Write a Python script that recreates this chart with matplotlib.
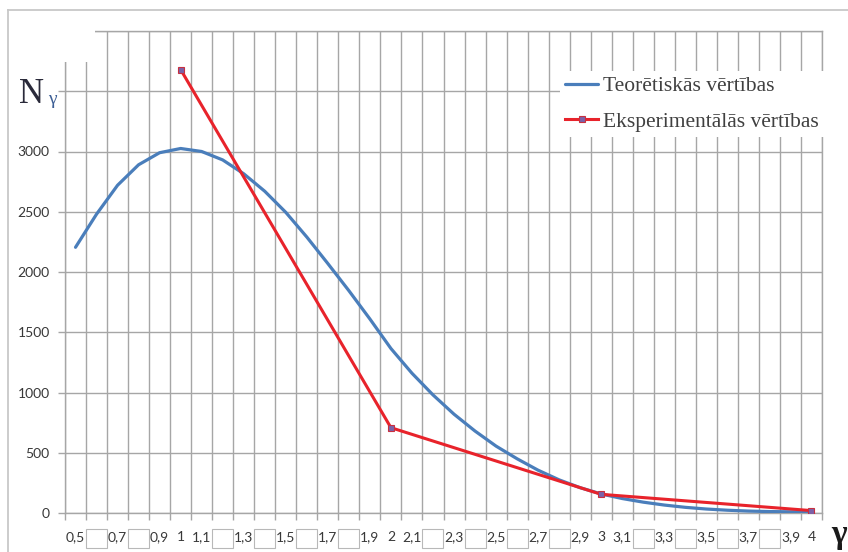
import numpy as np
import matplotlib
matplotlib.use("Agg")
import matplotlib.pyplot as plt
from matplotlib.patches import Rectangle
from matplotlib.lines import Line2D
import matplotlib.transforms as mtransforms

# ---- data ----
gamma = [0.5, 0.6, 0.7, 0.8, 0.9, 1.0, 1.1, 1.2, 1.3, 1.4, 1.5, 1.6,
         1.7, 1.8, 1.9, 2.0, 2.1, 2.2, 2.3, 2.4, 2.5, 2.6, 2.7, 2.8,
         2.9, 3.0, 3.1, 3.2, 3.3, 3.4, 3.5, 3.6, 3.7, 3.8, 3.9, 4.0]
theory = [2205, 2480, 2720, 2890, 2990, 3025, 3000, 2930, 2815, 2670, 2495, 2290,
          2070, 1845, 1610, 1365, 1160, 980, 820, 680, 555, 450, 355, 275,
          210, 158, 120, 90, 66, 47, 33, 23, 16, 12, 10, 9]
exp_gamma = [1.0, 2.0, 3.0, 4.0]
experiment = [3680, 708, 155, 20]
tick_labels = ["0,5", "", "0,7", "", "0,9", "1", "1,1", "", "1,3", "", "1,5", "",
               "1,7", "", "1,9", "2", "2,1", "", "2,3", "", "2,5", "", "2,7", "",
               "2,9", "3", "3,1", "", "3,3", "", "3,5", "", "3,7", "", "3,9", "4"]
yticks = [0, 500, 1000, 1500, 2000, 2500, 3000, 3500, 4000]
ytick_labels = ["0", "500", "1000", "1500", "2000", "2500", "3000", "", ""]

W, H = 848, 552
fig = plt.figure(figsize=(W / 100, H / 100), dpi=100)
fig.patch.set_facecolor("white")

def fx(px):
    return px / W

def fy(py):
    return 1 - py / H

L, R, T, B = 65, 822, 31, 513
ax = fig.add_axes([fx(L), fy(B), fx(R - L), (B - T) / H])

grid_c = "#a6a6a6"
xpos = np.arange(len(gamma))
exp_pos = [gamma.index(g) for g in exp_gamma]

ax.plot(xpos, theory, color="#4a7ebb", lw=2.3, solid_capstyle="round",
        solid_joinstyle="round", zorder=3, label="Teorētiskās vērtības")
ax.plot(exp_pos, experiment, color="#e8232b", lw=2.2, marker="s", markersize=4.5,
        markerfacecolor="#7b62a8", markeredgecolor="#c83040", markeredgewidth=0.8,
        zorder=4, label="Eksperimentālās vērtības")

ax.set_xlim(-0.5, len(gamma) - 0.5)
ax.set_ylim(0, 4000)

ax.set_xticks(xpos)
ax.set_xticklabels(tick_labels, fontfamily="Lato", fontsize=10, color="#383838")
ax.set_xticks(np.arange(-0.5, len(gamma), 1), minor=True)
ax.tick_params(axis="x", which="major", length=0, pad=13)
ax.tick_params(axis="x", which="minor", length=5, color=grid_c, width=1)

ax.set_yticks(yticks)
ax.set_yticklabels(ytick_labels, fontfamily="Lato", fontsize=10, color="#383838")
ax.tick_params(axis="y", length=5, color=grid_c, width=1, pad=6)

ax.grid(which="minor", axis="x", color=grid_c, lw=1)
ax.grid(which="major", axis="y", color=grid_c, lw=1)
ax.set_axisbelow(True)
for s in ax.spines.values():
    s.set_color(grid_c)
    s.set_linewidth(1)

# blank boxes in place of hidden labels
trans = mtransforms.blended_transform_factory(ax.transData, ax.transAxes)
for i, lab in enumerate(tick_labels):
    if lab == "":
        ax.add_patch(Rectangle((i - 0.5, -0.073), 1.0, 0.039, transform=trans,
                               facecolor="white", edgecolor="#b8b8b8", lw=0.8,
                               clip_on=False, zorder=5))

# white mask over top-left corner of grid
fig.add_artist(Rectangle((fx(55), fy(62)), fx(40), (62 - 20) / H, transform=fig.transFigure,
                         facecolor="white", edgecolor="none", zorder=10))

# outer frame
fig.add_artist(Line2D([fx(8), fx(8)], [fy(10), 0], transform=fig.transFigure,
                      color="#c8c8c8", lw=1.3, zorder=11))
fig.add_artist(Line2D([fx(8), 1], [fy(10), fy(10)], transform=fig.transFigure,
                      color="#c8c8c8", lw=1.3, zorder=11))

# axis titles
fig.text(fx(19), fy(103), "N", fontfamily="Liberation Serif", fontsize=25,
         color="#2a2a3a", ha="left", va="baseline", zorder=12)
fig.text(fx(48), fy(104), "γ", fontfamily="Liberation Serif", fontsize=14,
         color="#3d5f95", ha="left", va="baseline", zorder=12)
fig.text(fx(831), fy(543), "γ", fontfamily="Liberation Serif", fontsize=24,
         fontweight="bold", color="#1a1a1a", ha="left", va="baseline", zorder=12)

leg = ax.legend(loc="upper left", bbox_to_anchor=(fx(560), fy(71)),
                bbox_transform=fig.transFigure,
                prop={"family": "Liberation Serif", "size": 15.5},
                handlelength=1.5, handletextpad=0.25, labelspacing=0.7,
                borderpad=0.25, borderaxespad=0, frameon=True, fancybox=False,
                framealpha=1)
leg.get_frame().set_facecolor("white")
leg.get_frame().set_edgecolor("none")
for t in leg.get_texts():
    t.set_color("#404040")
leg.set_zorder(20)

fig.savefig("out.png", dpi=100, facecolor="white")
